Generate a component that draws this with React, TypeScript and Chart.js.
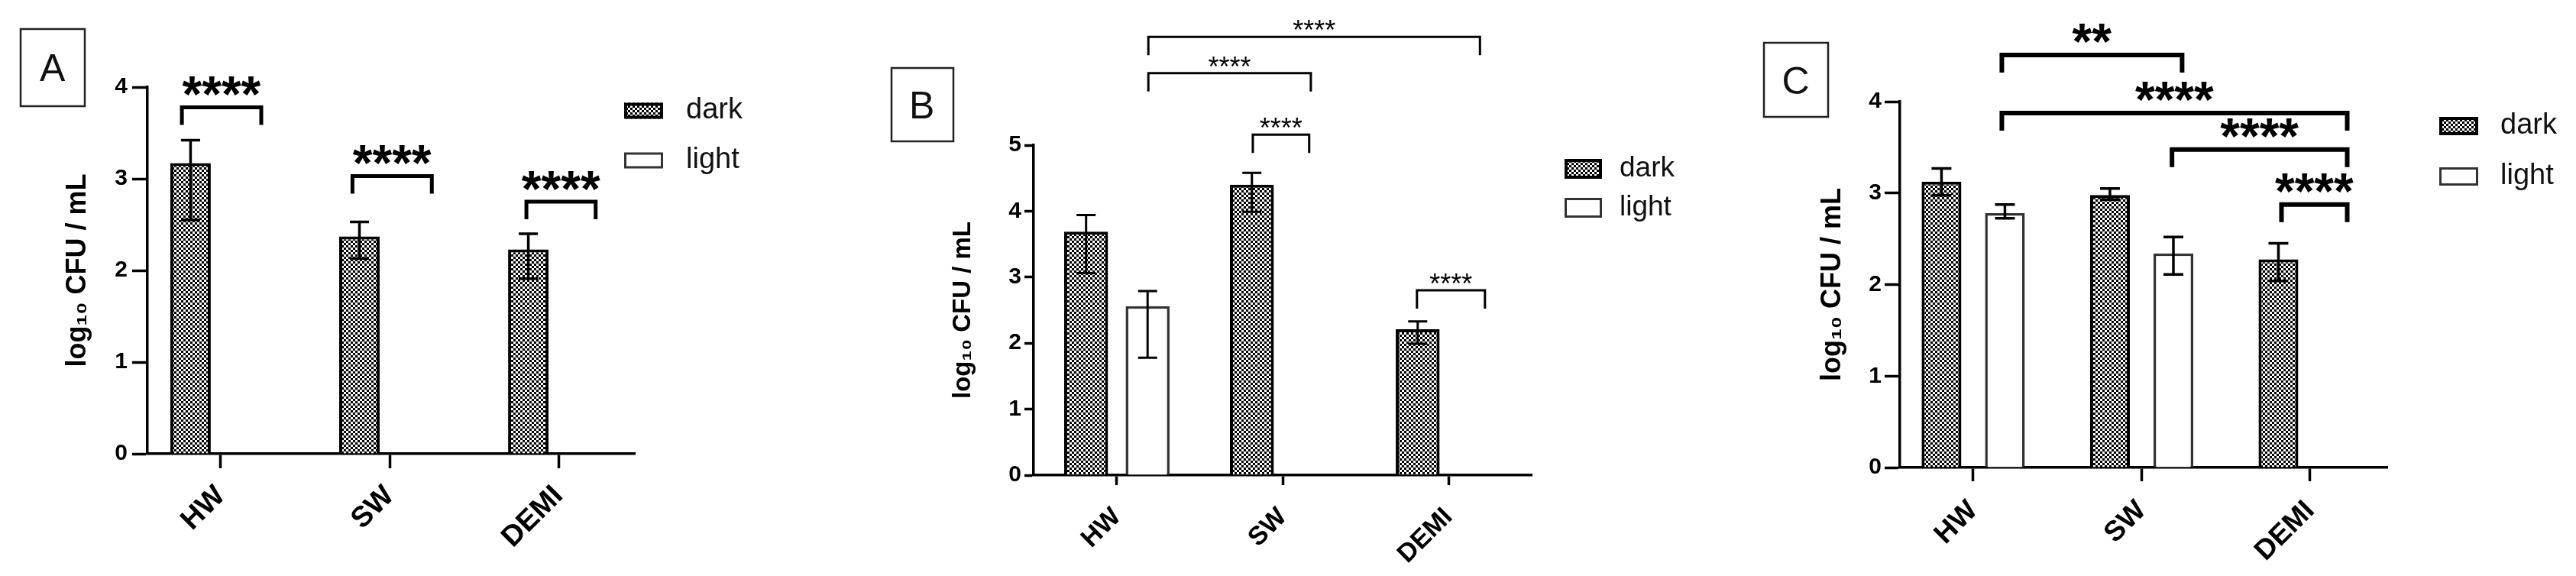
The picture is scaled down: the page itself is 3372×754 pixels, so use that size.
import React, { useEffect, useRef } from 'react';
import { Chart, registerables } from 'chart.js';

Chart.register(...registerables);

// ---------- data ----------
const categories = ['HW', 'SW', 'DEMI'];
const seriesNames = ['dark', 'light'];
const yTitle = 'log\u2081\u2080 CFU / mL';

// Panel A
const aDark = [3.17, 2.37, 2.23];
const aDarkLow = [2.55, 2.13, 1.91];
const aDarkHigh = [3.42, 2.53, 2.4];
const aLight = [0, 0, 0];
const aLightLow: (number | null)[] = [null, null, null];
const aLightHigh: (number | null)[] = [null, null, null];
const aYMax = 4;
const aBrackets = [
  { from: -0.23, to: 0.24, y: 3.78, label: '****' },
  { from: 0.78, to: 1.25, y: 3.03, label: '****' },
  { from: 1.81, to: 2.22, y: 2.75, label: '****' },
];

// Panel B
const bDark = [3.69, 4.4, 2.21];
const bDarkLow = [3.06, 3.99, 1.99];
const bDarkHigh = [3.94, 4.58, 2.33];
const bLight = [2.56, 0, 0];
const bLightLow: (number | null)[] = [1.78, null, null];
const bLightHigh: (number | null)[] = [2.79, null, null];
const bYMax = 5;
const bBrackets = [
  { from: 0.19, to: 2.19, y: 6.64, label: '****' },
  { from: 0.19, to: 1.17, y: 6.09, label: '****' },
  { from: 0.82, to: 1.16, y: 5.16, label: '****' },
  { from: 1.81, to: 2.22, y: 2.8, label: '****' },
];

// Panel C
const cDark = [3.125, 2.98, 2.275];
const cDarkLow = [2.975, 2.93, 2.04];
const cDarkHigh = [3.27, 3.05, 2.45];
const cLight = [2.78, 2.34, 0];
const cLightLow: (number | null)[] = [2.725, 2.11, null];
const cLightHigh: (number | null)[] = [2.875, 2.52, null];
const cYMax = 4;
const cBrackets = [
  { from: 0.17, to: 1.24, y: 4.51, label: '**' },
  { from: 0.17, to: 2.22, y: 3.875, label: '****' },
  { from: 1.18, to: 2.22, y: 3.475, label: '****' },
  { from: 1.83, to: 2.22, y: 2.875, label: '****' },
];

const FONT = "'Liberation Sans', Arial, 'DejaVu Sans', sans-serif";

// ---------- panel layout/style configs ----------
type Bracket = { from: number; to: number; y: number; label: string };
type PanelCfg = {
  letter: string;
  left: number;
  width: number;
  area: { l: number; r: number; t: number; b: number };
  xMin: number;
  xMax: number;
  yMax: number;
  dark: number[];
  darkLow: (number | null)[];
  darkHigh: (number | null)[];
  light: number[];
  lightLow: (number | null)[];
  lightHigh: (number | null)[];
  brackets: Bracket[];
  catPct: number;
  barPct: number;
  yTickLen: number;
  xTickLen: number;
  yTickPad: number;
  xTickPad: number;
  xFont: number;
  titleSize: number;
  titleX: number;
  bracketLW: number;
  legLen: number;
  starOffset: number;
  starFont: string;
  capW: number;
  errLW: number;
  legend: { x: number; w: number; h: number; y0: number; y1: number; tx: number; size: number };
  box: { x0: number; y0: number; x1: number; y1: number };
};

const panels: PanelCfg[] = [
  {
    letter: 'A', left: 0, width: 1124,
    area: { l: 193, r: 831, t: 114, b: 594 },
    xMin: -0.434, xMax: 2.452, yMax: aYMax,
    dark: aDark, darkLow: aDarkLow, darkHigh: aDarkHigh,
    light: aLight, lightLow: aLightLow, lightHigh: aLightHigh,
    brackets: aBrackets, catPct: 0.715, barPct: 0.67,
    yTickLen: 20, xTickLen: 19, yTickPad: 6, xTickPad: 14, xFont: 38,
    titleSize: 36, titleX: 102,
    bracketLW: 5, legLen: 23, starOffset: 28, starFont: `bold 66px ${FONT}`,
    capW: 25, errLW: 3.5,
    legend: { x: 817, w: 51, h: 21, y0: 145, y1: 210, tx: 898, size: 38 },
    box: { x0: 27, y0: 38, x1: 111, y1: 139 },
  },
  {
    letter: 'B', left: 1124, width: 1124,
    area: { l: 229, r: 881, t: 190, b: 622 },
    xMin: -0.502, xMax: 2.502, yMax: bYMax,
    dark: bDark, darkLow: bDarkLow, darkHigh: bDarkHigh,
    light: bLight, lightLow: bLightLow, lightHigh: bLightHigh,
    brackets: bBrackets, catPct: 0.742, barPct: 0.714,
    yTickLen: 12, xTickLen: 13, yTickPad: 4, xTickPad: 22, xFont: 34,
    titleSize: 33, titleX: 137,
    bracketLW: 3, legLen: 24, starOffset: 15, starFont: `36px ${FONT}`,
    capW: 25, errLW: 3,
    legend: { x: 924, w: 49, h: 26, y0: 221, y1: 272, tx: 996, size: 37 },
    box: { x0: 43, y0: 89, x1: 124, y1: 185 },
  },
  {
    letter: 'C', left: 2248, width: 1124,
    area: { l: 239, r: 877, t: 133, b: 612 },
    xMin: -0.435, xMax: 2.458, yMax: cYMax,
    dark: cDark, darkLow: cDarkLow, darkHigh: cDarkHigh,
    light: cLight, lightLow: cLightLow, lightHigh: cLightHigh,
    brackets: cBrackets, catPct: 0.753, barPct: 0.627,
    yTickLen: 20, xTickLen: 18, yTickPad: 4, xTickPad: 17, xFont: 37,
    titleSize: 36, titleX: 151,
    bracketLW: 6, legLen: 23, starOffset: 28, starFont: `bold 66px ${FONT}`,
    capW: 26, errLW: 3.5,
    legend: { x: 945, w: 51, h: 24, y0: 165, y1: 231, tx: 1025, size: 38 },
    box: { x0: 61, y0: 56, x1: 145, y1: 153 },
  },
];

function makePattern(): CanvasPattern | string {
  const c = document.createElement('canvas');
  c.width = 6;
  c.height = 6;
  const g = c.getContext('2d');
  if (!g) return '#777';
  g.fillStyle = '#ffffff';
  g.fillRect(0, 0, 6, 6);
  g.fillStyle = '#000000';
  g.fillRect(0, 0, 3, 3);
  g.fillRect(3, 3, 3, 3);
  const p = g.createPattern(c, 'repeat');
  return p || '#777';
}

function centeredText(ctx: CanvasRenderingContext2D, text: string, cx: number, cy: number) {
  ctx.textAlign = 'left';
  ctx.textBaseline = 'alphabetic';
  const m = ctx.measureText(text);
  const l = m.actualBoundingBoxLeft;
  const r = m.actualBoundingBoxRight;
  const a = m.actualBoundingBoxAscent;
  const d = m.actualBoundingBoxDescent;
  ctx.fillText(text, cx - (r - l) / 2, cy + (a - d) / 2);
}

function Panel({ cfg }: { cfg: PanelCfg }) {
  const ref = useRef<HTMLCanvasElement | null>(null);
  useEffect(() => {
    const canvas = ref.current;
    if (!canvas) return;
    const pattern = makePattern();
    const H = 754;

    const annot = {
      id: 'annot' + cfg.letter,
      afterDatasetsDraw(chart: any) {
        const ctx: CanvasRenderingContext2D = chart.ctx;
        const ys = chart.scales.y;
        const sets = [
          { low: cfg.darkLow, high: cfg.darkHigh },
          { low: cfg.lightLow, high: cfg.lightHigh },
        ];
        ctx.save();
        ctx.strokeStyle = '#000';
        ctx.lineWidth = cfg.errLW;
        ctx.lineCap = 'butt';
        sets.forEach((s, d) => {
          const meta = chart.getDatasetMeta(d);
          meta.data.forEach((el: any, i: number) => {
            const lo = s.low[i];
            const hi = s.high[i];
            if (lo == null || hi == null) return;
            const x = el.x;
            const yl = ys.getPixelForValue(lo);
            const yh = ys.getPixelForValue(hi);
            ctx.beginPath();
            ctx.moveTo(x, yl);
            ctx.lineTo(x, yh);
            ctx.moveTo(x - cfg.capW / 2, yh);
            ctx.lineTo(x + cfg.capW / 2, yh);
            ctx.moveTo(x - cfg.capW / 2, yl);
            ctx.lineTo(x + cfg.capW / 2, yl);
            ctx.stroke();
          });
        });
        ctx.restore();
      },
      afterDraw(chart: any) {
        const ctx: CanvasRenderingContext2D = chart.ctx;
        const xs = chart.scales.x;
        const ys = chart.scales.y;
        ctx.save();
        // significance brackets
        ctx.strokeStyle = '#000';
        ctx.fillStyle = '#000';
        ctx.lineWidth = cfg.bracketLW;
        ctx.lineJoin = 'miter';
        ctx.lineCap = 'butt';
        cfg.brackets.forEach((b) => {
          const x1 = xs.getPixelForValue(b.from);
          const x2 = xs.getPixelForValue(b.to);
          const yt = ys.getPixelForValue(b.y);
          ctx.beginPath();
          ctx.moveTo(x1, yt + cfg.legLen);
          ctx.lineTo(x1, yt);
          ctx.lineTo(x2, yt);
          ctx.lineTo(x2, yt + cfg.legLen);
          ctx.stroke();
          ctx.font = cfg.starFont;
          centeredText(ctx, b.label, (x1 + x2) / 2, yt - cfg.starOffset);
        });
        // legend
        const lg = cfg.legend;
        chart.data.datasets.forEach((ds: any, i: number) => {
          const cy = i === 0 ? lg.y0 : lg.y1;
          const bx = lg.x;
          const by = cy - lg.h / 2;
          ctx.fillStyle = i === 0 ? pattern : '#fff';
          ctx.fillRect(bx, by, lg.w, lg.h);
          ctx.strokeStyle = i === 0 ? '#000' : '#333';
          ctx.lineWidth = i === 0 ? 4 : 3;
          ctx.strokeRect(bx + ctx.lineWidth / 2, by + ctx.lineWidth / 2, lg.w - ctx.lineWidth, lg.h - ctx.lineWidth);
          ctx.fillStyle = '#111';
          ctx.font = `${lg.size}px ${FONT}`;
          ctx.textAlign = 'left';
          ctx.textBaseline = 'middle';
          ctx.fillText(ds.label, lg.tx, cy);
        });
        // panel letter box
        const bxc = cfg.box;
        ctx.strokeStyle = '#222';
        ctx.lineWidth = 2.5;
        ctx.strokeRect(bxc.x0, bxc.y0, bxc.x1 - bxc.x0, bxc.y1 - bxc.y0);
        ctx.fillStyle = '#111';
        ctx.font = `50px ${FONT}`;
        centeredText(ctx, cfg.letter, (bxc.x0 + bxc.x1) / 2, (bxc.y0 + bxc.y1) / 2);
        ctx.restore();
      },
    };

    const chart = new Chart(canvas, {
      type: 'bar',
      data: {
        datasets: [
          {
            label: seriesNames[0],
            data: categories.map((_, i) => ({ x: i, y: cfg.dark[i] })),
            backgroundColor: pattern as any,
            borderColor: '#000',
            borderWidth: 4,
            categoryPercentage: cfg.catPct,
            barPercentage: cfg.barPct,
          },
          {
            label: seriesNames[1],
            data: categories.map((_, i) => ({ x: i, y: cfg.light[i] })),
            backgroundColor: '#ffffff',
            borderColor: '#333',
            borderWidth: 3.5,
            categoryPercentage: cfg.catPct,
            barPercentage: cfg.barPct,
          },
        ],
      },
      options: {
        responsive: false,
        animation: false,
        devicePixelRatio: 1,
        events: [],
        layout: {
          padding: { left: 0, top: cfg.area.t, right: cfg.width - cfg.area.r, bottom: 0 },
        },
        plugins: {
          legend: { display: false },
          tooltip: { enabled: false },
          title: { display: false },
        },
        scales: {
          x: {
            type: 'linear',
            min: cfg.xMin,
            max: cfg.xMax,
            offset: false,
            afterFit: (s: any) => {
              s.height = H - cfg.area.b;
            },
            grid: {
              offset: false,
              drawOnChartArea: false,
              drawTicks: true,
              tickLength: cfg.xTickLen,
              tickWidth: 3.5,
              tickColor: '#000',
            },
            border: { display: true, width: 3.5, color: '#000' },
            ticks: {
              stepSize: 1,
              includeBounds: false,
              autoSkip: false,
              minRotation: 45,
              maxRotation: 45,
              padding: cfg.xTickPad,
              color: '#000',
              font: { family: FONT, size: cfg.xFont, weight: 'bold' },
              callback: (v: any) => categories[v as number] ?? '',
            },
          },
          y: {
            type: 'linear',
            min: 0,
            max: cfg.yMax,
            afterFit: (s: any) => {
              s.width = cfg.area.l;
            },
            grid: {
              drawOnChartArea: false,
              drawTicks: true,
              tickLength: cfg.yTickLen,
              tickWidth: 3.5,
              tickColor: '#000',
            },
            border: { display: true, width: 3.5, color: '#000' },
            ticks: {
              stepSize: 1,
              padding: cfg.yTickPad,
              color: '#000',
              font: { family: FONT, size: 30, weight: 'bold' },
            },
            title: {
              display: true,
              text: yTitle,
              color: '#000',
              font: { family: FONT, size: cfg.titleSize, weight: 'bold' },
              padding: { top: cfg.titleX - (cfg.titleSize * 1.2) / 2, bottom: 0 },
            },
          },
        },
      },
      plugins: [annot as any],
    });
    return () => chart.destroy();
  }, [cfg]);

  return (
    <canvas
      ref={ref}
      width={cfg.width}
      height={754}
      style={{ position: 'absolute', left: cfg.left, top: 0, width: cfg.width, height: 754 }}
    />
  );
}

export default function App() {
  useEffect(() => {
    document.body.style.margin = '0';
  }, []);
  return (
    <div
      style={{
        position: 'absolute',
        left: 0,
        top: 0,
        width: 3372,
        height: 754,
        background: '#fff',
        overflow: 'hidden',
      }}
    >
      {panels.map((p) => (
        <Panel key={p.letter} cfg={p} />
      ))}
    </div>
  );
}
